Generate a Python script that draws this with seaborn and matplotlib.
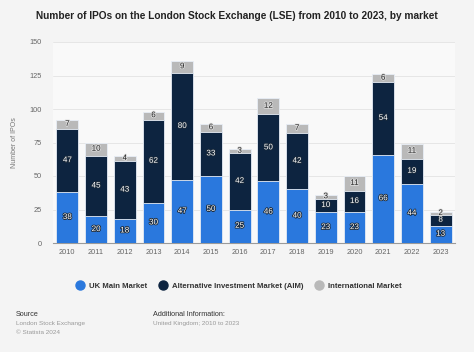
import numpy as np
import pandas as pd
import matplotlib
matplotlib.use('Agg')
import matplotlib.pyplot as plt
import matplotlib.patheffects as pe
from matplotlib.lines import Line2D
import seaborn as sns

# Data
years = ['2010', '2011', '2012', '2013', '2014', '2015', '2016',
         '2017', '2018', '2019', '2020', '2021', '2022', '2023']
uk_main = [38, 20, 18, 30, 47, 50, 25, 46, 40, 23, 23, 66, 44, 13]
aim = [47, 45, 43, 62, 80, 33, 42, 50, 42, 10, 16, 54, 19, 8]
international = [7, 10, 4, 6, 9, 6, 3, 12, 7, 3, 11, 6, 11, 2]

series_names = ['UK Main Market', 'Alternative Investment Market (AIM)', 'International Market']
colors = ['#2a78dd', '#0d2440', '#b9b9b9']

df = pd.DataFrame({'year': years, 'uk': uk_main, 'aim': aim, 'intl': international})
df['c1'] = df['uk']
df['c2'] = df['uk'] + df['aim']
df['c3'] = df['c2'] + df['intl']

sns.set_style('white')
plt.rcParams['font.family'] = ['Liberation Sans', 'DejaVu Sans']

fig = plt.figure(figsize=(4.74, 3.52), dpi=100, facecolor='#f4f4f4')
ax = fig.add_axes([53 / 474, 1 - 243 / 352, 402 / 474, 201 / 352])
ax.set_facecolor('#f9f9f9')

edge = '#e8eef6'
# overlapping cumulative bars -> stacked look
for col, c in zip(['c3', 'c2', 'c1'], colors[::-1]):
    sns.barplot(data=df, x='year', y=col, color=c, saturation=1, width=0.76,
                edgecolor=edge, linewidth=0.6, ax=ax, zorder=3)

# segment labels
x = np.arange(len(years))
bottoms = [np.zeros(len(years)), df['c1'].values, df['c2'].values]
vals = [df['uk'].values, df['aim'].values, df['intl'].values]
for i, (b, v) in enumerate(zip(bottoms, vals)):
    for xi, bi, vi in zip(x, b, v):
        if i == 2:
            tc, sc = '#222222', '#dddddd'
        else:
            tc, sc = 'white', '#1b2a3a'
        t = ax.text(xi, bi + vi / 2, str(vi), ha='center', va='center',
                    fontsize=5.8, color=tc, zorder=5)
        t.set_path_effects([pe.withStroke(linewidth=1.2, foreground=sc)])

ax.set_ylim(0, 150)
ax.set_xlim(-0.5, len(years) - 0.5)
ax.set_yticks([0, 25, 50, 75, 100, 125, 150])
ax.yaxis.grid(True, color='#e3e3e3', linewidth=0.6, zorder=0)
ax.set_axisbelow(True)
for s in ['top', 'right', 'left']:
    ax.spines[s].set_visible(False)
ax.spines['bottom'].set_color('#9a9a9a')
ax.spines['bottom'].set_linewidth(0.8)
ax.tick_params(axis='both', length=0, labelsize=5.3, labelcolor='#666666')
ax.tick_params(axis='y', pad=8)
ax.tick_params(axis='x', pad=4)
ax.set_xlabel('')
ax.set_ylabel('Number of IPOs', fontsize=5, color='#777777', labelpad=8)

fig.text(0.5, 1 - 16 / 352, 'Number of IPOs on the London Stock Exchange (LSE) from 2010 to 2023, by market',
         ha='center', va='center', fontsize=7.3, fontweight='bold', color='#222222')

handles = [Line2D([], [], marker='o', linestyle='', markersize=6.5, markerfacecolor=c,
                  markeredgecolor=c) for c in colors]
leg = fig.legend(handles, series_names, loc='center', bbox_to_anchor=(0.5, 1 - 286 / 352),
                 ncol=3, frameon=False, handletextpad=0.2, columnspacing=1.0,
                 prop={'weight': 'bold', 'size': 5.6})
for t in leg.get_texts():
    t.set_color('#333333')

fig.text(16 / 474, 1 - 315 / 352, 'Source', fontsize=5.2, color='#333333', va='center')
fig.text(16 / 474, 1 - 324 / 352, 'London Stock Exchange', fontsize=4.6, color='#999999', va='center')
fig.text(16 / 474, 1 - 332 / 352, '\u00a9 Statista 2024', fontsize=4.6, color='#999999', va='center')
fig.text(153 / 474, 1 - 315 / 352, 'Additional Information:', fontsize=5.2, color='#333333', va='center')
fig.text(153 / 474, 1 - 324 / 352, 'United Kingdom; 2010 to 2023', fontsize=4.6, color='#999999', va='center')

fig.savefig('out.png', dpi=100, facecolor=fig.get_facecolor())
